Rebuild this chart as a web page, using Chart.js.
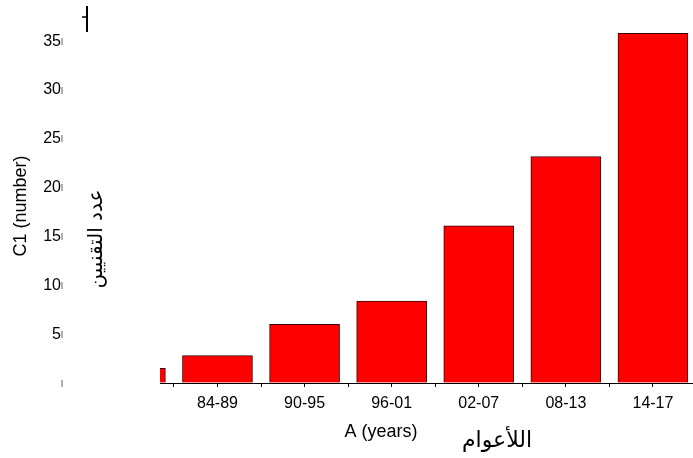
<!DOCTYPE html>
<html>
<head>
<meta charset="utf-8">
<script src="https://cdn.jsdelivr.net/npm/chart.js@4"></script>
<style>
  html, body { margin: 0; padding: 0; background: #fff; }
</style>
</head>
<body>
<canvas id="chart" width="693" height="458"></canvas>
<script>
// first period is only partly visible at the left edge of the plot
const periods = ["78-83", "84-89", "90-95", "96-01", "02-07", "08-13", "14-17"];
const counts = [1.5, 2.8, 6.0, 8.4, 16.1, 23.2, 35.8];
const yTicks = [0, 5, 10, 15, 20, 25, 30, 35];

const latin = '"Liberation Sans", Arial, sans-serif';
const arabic = '"DejaVu Sans", sans-serif';

const titles = {
  id: "titles",
  afterDraw(chart) {
    const ctx = chart.ctx;
    ctx.save();
    ctx.fillStyle = "#000";
    ctx.textAlign = "center";
    ctx.textBaseline = "middle";

    ctx.font = "18px " + latin;
    ctx.fillText("A (years)", 381, 432);

    ctx.font = "22px " + arabic;
    ctx.fillText("اللأعوام", 497, 441);

    ctx.save();
    ctx.translate(21, 206);
    ctx.rotate(-Math.PI / 2);
    ctx.font = "18px " + latin;
    ctx.fillText("C1 (number)", 0, 0);
    ctx.restore();

    ctx.save();
    ctx.translate(97, 239);
    ctx.rotate(-Math.PI / 2);
    ctx.font = "20px " + arabic;
    ctx.fillText("عدد التقنيين", 0, 0);
    ctx.restore();

    // stray axis stub in the top left corner
    ctx.strokeStyle = "#000";
    ctx.lineWidth = 2;
    ctx.beginPath();
    ctx.moveTo(87, 6);
    ctx.lineTo(87, 32);
    ctx.stroke();
    ctx.lineWidth = 1.5;
    ctx.beginPath();
    ctx.moveTo(82, 17);
    ctx.lineTo(87, 17);
    ctx.stroke();
    ctx.restore();
  }
};

new Chart(document.getElementById("chart"), {
  type: "bar",
  data: {
    datasets: [{
      data: counts.map((v, i) => ({ x: i, y: v })),
      backgroundColor: "#ff0000",
      borderColor: "#3a0000",
      borderWidth: 1,
      barThickness: 70,
      clip: 0
    }]
  },
  options: {
    responsive: false,
    animation: false,
    events: [],
    layout: { padding: { top: 10, right: 0, bottom: 0, left: 0 } },
    plugins: { legend: { display: false }, tooltip: { enabled: false } },
    scales: {
      x: {
        type: "linear",
        min: 0.34,
        max: 6.46,
        offset: false,
        afterFit: (s) => { s.height = 75; },
        afterBuildTicks: (s) => {
          const t = [];
          for (let i = 0; i < periods.length; i++) {
            [i, i + 0.5].forEach(v => { if (v >= s.min && v <= s.max) t.push({ value: v }); });
          }
          s.ticks = t;
        },
        grid: { drawOnChartArea: false, offset: false, tickLength: 4, tickColor: "#000", tickWidth: 1 },
        border: { color: "#000", width: 1 },
        ticks: {
          autoSkip: false,
          maxRotation: 0,
          padding: 7,
          color: "#000",
          font: { family: latin, size: 16 },
          callback: (v) => Number.isInteger(v) ? periods[v] : ""
        }
      },
      y: {
        position: "left",
        weight: 2,
        min: 0,
        max: 38.2,
        afterFit: (s) => { s.width = 63; },
        afterBuildTicks: (s) => { s.ticks = yTicks.map(v => ({ value: v })); },
        grid: { drawOnChartArea: false, tickLength: 2, tickWidth: 7, tickColor: "#b0b0b0" },
        border: { display: false },
        ticks: {
          padding: 0,
          color: "#000",
          font: { family: latin, size: 16 },
          callback: (v) => v === 0 ? "" : String(v)
        }
      },
      gap: {
        type: "linear",
        position: "left",
        weight: 1,
        afterFit: (s) => { s.width = 97; },
        grid: { display: false },
        border: { display: false },
        ticks: { display: false }
      }
    }
  },
  plugins: [titles]
});
</script>
</body>
</html>
